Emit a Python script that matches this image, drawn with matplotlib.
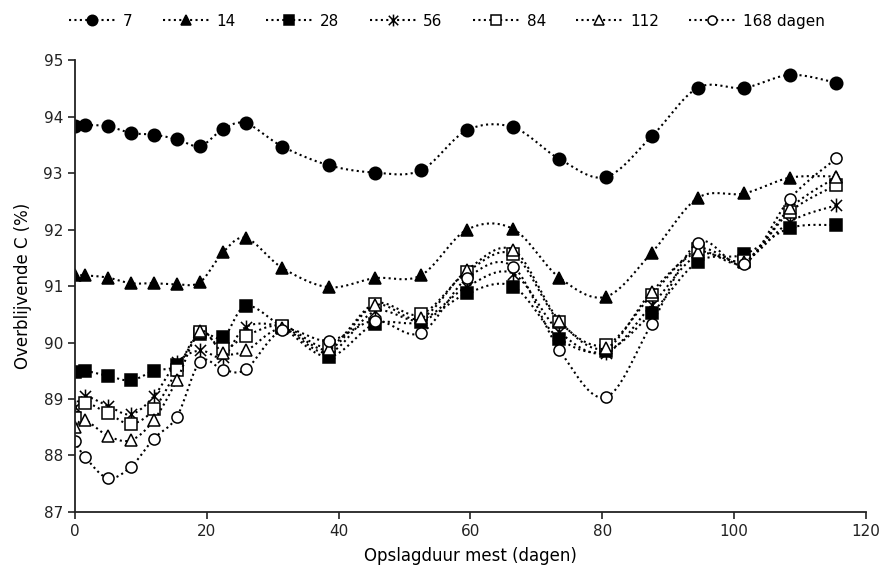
import numpy as np
import matplotlib
matplotlib.use("Agg")
import matplotlib.pyplot as plt
from matplotlib.path import Path
from matplotlib.lines import Line2D

# storage time (days)
days = [0, 1.5, 5, 8.5, 12, 15.5, 19, 22.5, 26, 31.5, 38.5, 45.5, 52.5,
        59.5, 66.5, 73.5, 80.5, 87.5, 94.5, 101.5, 108.5, 115.5]

s7 = [93.83, 93.85, 93.83, 93.71, 93.68, 93.60, 93.48, 93.78, 93.88, 93.47, 93.14,
      93.01, 93.05, 93.76, 93.81, 93.25, 92.93, 93.65, 94.51, 94.51, 94.74, 94.60]
s14 = [91.19, 91.19, 91.15, 91.05, 91.05, 91.03, 91.07, 91.60, 91.85, 91.32, 90.98,
       91.14, 91.19, 92.00, 92.01, 91.15, 90.81, 91.59, 92.56, 92.64, 92.92, 92.94]
s28 = [89.48, 89.50, 89.41, 89.33, 89.50, 89.60, 90.15, 90.09, 90.65, 90.27, 89.75,
       90.33, 90.37, 90.87, 90.99, 90.07, 89.85, 90.52, 91.43, 91.56, 92.03, 92.08]
s56 = [88.86, 89.05, 88.88, 88.73, 89.05, 89.65, 89.86, 89.75, 90.28, 90.27, 89.82,
       90.55, 90.40, 90.99, 91.22, 90.19, 89.82, 90.66, 91.55, 91.45, 92.14, 92.43]
s84 = [88.67, 88.93, 88.75, 88.56, 88.82, 89.51, 90.19, 89.88, 90.12, 90.30, 89.93,
       90.69, 90.50, 91.25, 91.56, 90.37, 89.96, 90.84, 91.65, 91.45, 92.32, 92.79]
s112 = [88.50, 88.63, 88.35, 88.27, 88.63, 89.34, 90.20, 89.82, 89.86, 90.25, 89.88,
        90.66, 90.43, 91.28, 91.64, 90.39, 89.90, 90.90, 91.60, 91.42, 92.38, 92.93]
s168 = [88.26, 87.98, 87.60, 87.80, 88.30, 88.69, 89.66, 89.52, 89.53, 90.22, 90.03,
        90.39, 90.17, 91.14, 91.34, 89.87, 89.03, 90.33, 91.77, 91.39, 92.55, 93.26]

labels = ["7", "14", "28", "56", "84", "112", "168 dagen"]
series = [s7, s14, s28, s56, s84, s112, s168]

# excel-like star marker: vertical bar + X
star = Path([(0, -1), (0, 1), (-0.8, -0.8), (0.8, 0.8), (-0.8, 0.8), (0.8, -0.8)],
            [Path.MOVETO, Path.LINETO, Path.MOVETO, Path.LINETO, Path.MOVETO, Path.LINETO])

styles = [
    dict(marker="o", mfc="black", ms=9),
    dict(marker="^", mfc="black", ms=9),
    dict(marker="s", mfc="black", ms=8),
    dict(marker=star, mfc="none", ms=10),
    dict(marker="s", mfc="white", ms=8),
    dict(marker="^", mfc="white", ms=8),
    dict(marker="o", mfc="white", ms=8),
]

dots = (0, (1, 1.6))


def smooth(x, y, n=25):
    # bezier smoothing like excel's smoothed line
    p = np.column_stack([x, y]).astype(float)
    pp = np.vstack([p[0], p, p[-1]])
    t = np.linspace(0, 1, n)[:, None]
    out = []
    for i in range(len(p) - 1):
        p0, p3 = pp[i + 1], pp[i + 2]
        c1 = p0 + (pp[i + 2] - pp[i]) / 6
        c2 = p3 - (pp[i + 3] - pp[i + 1]) / 6
        seg = (1 - t)**3 * p0 + 3 * (1 - t)**2 * t * c1 + 3 * (1 - t) * t**2 * c2 + t**3 * p3
        out.append(seg if i == 0 else seg[1:])
    return np.vstack(out)


fig = plt.figure(figsize=(8.8, 5.73), dpi=100)
ax = fig.add_axes([0.085, 0.1065, 0.899, 0.7885])

handles = []
for s, st, lab in zip(series, styles, labels):
    c = smooth(days, s)
    ax.plot(c[:, 0], c[:, 1], color="black", ls=dots, lw=1.5)
    ax.plot(days, s, ls="none", marker=st["marker"], ms=st["ms"], mfc=st["mfc"],
            mec="black", mew=1.1)
    handles.append(Line2D([], [], color="black", ls=dots, lw=1.5,
                          marker=st["marker"], ms=st["ms"] - 1.5, mfc=st["mfc"],
                          mec="black", mew=1.1, label=lab))

ax.set_xlim(0, 120)
ax.set_ylim(87, 95)
ax.set_xticks(range(0, 121, 20))
ax.set_yticks(range(87, 96))
for sp in ["top", "right"]:
    ax.spines[sp].set_visible(False)
for sp in ["left", "bottom"]:
    ax.spines[sp].set_linewidth(1.3)
    ax.spines[sp].set_color("#222222")
ax.tick_params(direction="out", length=5, width=1.2, labelsize=11, colors="#222222")
ax.set_xlabel("Opslagduur mest (dagen)", fontsize=12, labelpad=6)
ax.set_ylabel("Overblijvende C (%)", fontsize=12, labelpad=8)

fig.legend(handles=handles, loc="upper center", bbox_to_anchor=(0.508, 1.0), ncol=7,
           frameon=False, fontsize=11, handlelength=3.0, handletextpad=0.5,
           columnspacing=2.0)

fig.savefig("out.png", dpi=100)
